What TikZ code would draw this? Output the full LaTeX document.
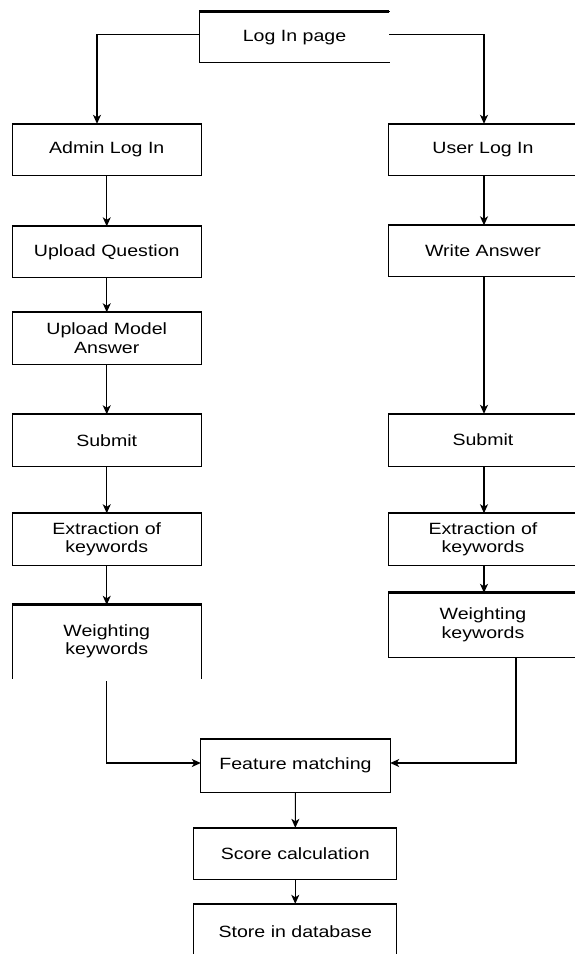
\documentclass[tikz,border=0pt]{standalone}
\usepackage{fontspec}
\setmainfont[FakeStretch=1.2]{Liberation Sans}
\usetikzlibrary{arrows.meta}
\begin{document}
\begin{tikzpicture}[x=1pt,y=-1pt,
  boxnode/.style={draw=none,inner sep=0pt,align=center,font=\fontsize{16.3}{18.5}\selectfont},
  thinline/.style={line width=1.1pt,line cap=rect},
  topline/.style={line width=2pt},
  heavytop/.style={line width=3pt},
  arr/.style={line width=1.1pt,-{Stealth[length=9pt,width=8pt,inset=2.5pt]}},
  conn/.style={line width=1pt}]
\useasboundingbox (0,0) rectangle (574,954);
\fill[white] (0,0) rectangle (574,954);

% nodes
\node[boxnode,minimum width=189pt,minimum height=51pt] (login) at (294.5,37.2) {Log In page};
\node[boxnode,minimum width=188.5pt,minimum height=51pt] (admin) at (106.75,149.5) {Admin Log In};
\node[boxnode,minimum width=188.5pt,minimum height=51pt] (upq) at (106.75,252) {Upload Question};
\node[boxnode,minimum width=188.5pt,minimum height=51.5pt] (upm) at (106.75,338.2) {Upload Model\\Answer};
\node[boxnode,minimum width=188.5pt,minimum height=51.5pt] (subL) at (106.75,440.2) {Submit};
\node[boxnode,minimum width=188.5pt,minimum height=51.5pt] (extL) at (106.75,539.2) {Extraction of\\keywords};
\node[boxnode,minimum width=188.5pt,minimum height=73pt] (wL) at (106.75,641.5) {Weighting\\keywords};

\node[boxnode,minimum width=188pt,minimum height=51pt] (user) at (483,149.5) {User Log In};
\node[boxnode,minimum width=188pt,minimum height=51pt] (write) at (483,251) {Write Answer};
\node[boxnode,minimum width=188pt,minimum height=52pt] (subR) at (483,440) {Submit};
\node[boxnode,minimum width=188pt,minimum height=51.5pt] (extR) at (483,539.2) {Extraction of\\keywords};
\node[boxnode,minimum width=188pt,minimum height=64pt] (wR) at (483,625) {Weighting\\keywords};

\node[boxnode,minimum width=189pt,minimum height=53pt] (feat) at (295.5,765.5) {Feature matching};
\node[boxnode,minimum width=202.5pt,minimum height=51pt] (score) at (295.25,853.5) {Score calculation};
\node[boxnode,minimum width=202.5pt,minimum height=56pt] (store) at (295.25,932) {Store in database};

% borders: closed boxes (thin sides/bottom, thicker top)
\foreach \n in {admin,upq,upm,subL,extL,user,write,subR,extR,feat,score} {
  \draw[thinline] (\n.north west) -- (\n.south west) -- (\n.south east) -- (\n.north east);
  \draw[topline] ([xshift=-0.5pt]\n.north west) -- ([xshift=0.5pt]\n.north east);
}
% log in page: no right side
\draw[thinline] (login.north east) -- (login.north west) -- (login.south west) -- (login.south east);
\draw[heavytop] ([xshift=-0.5pt]login.north west) -- (login.north east);
% weighting (left): open bottom
\draw[thinline] (wL.north west) -- (wL.south west);
\draw[thinline] (wL.north east) -- (wL.south east);
\draw[heavytop] ([xshift=-0.5pt]wL.north west) -- ([xshift=0.5pt]wL.north east);
% weighting (right)
\draw[thinline] (wR.north west) -- (wR.south west) -- (wR.south east) -- (wR.north east);
\draw[heavytop] ([xshift=-0.5pt]wR.north west) -- ([xshift=0.5pt]wR.north east);
% store in database
\draw[thinline] (store.south west) -- (store.north west) -- (store.north east) -- (store.south east);
\draw[topline] ([xshift=-0.5pt]store.north west) -- ([xshift=0.5pt]store.north east);

% connectors
\draw[arr] ([yshift=3pt]login.west) -| ([xshift=-9.75pt]admin.north);
\draw[arr] ([yshift=3pt]login.east) -| ([xshift=1pt]user.north);
\draw[arr] (admin) -- (upq);
\draw[arr] (upq) -- (upm);
\draw[arr] (upm) -- (subL);
\draw[arr] (subL) -- (extL);
\draw[arr] (extL) -- (wL);
\draw[arr] ([xshift=1pt]user.south) -- ([xshift=1pt]write.north);
\draw[arr] ([xshift=1pt]write.south) -- ([xshift=1pt]subR.north);
\draw[arr] ([xshift=1pt]subR.south) -- ([xshift=1pt]extR.north);
\draw[arr] ([xshift=1pt]extR.south) -- ([xshift=1pt]wR.north);
\draw[arr] ([yshift=-3pt]wL.south) |- ([yshift=2.5pt]feat.west);
\draw[arr] ([xshift=33pt]wR.south) |- ([yshift=2.5pt]feat.east);
\draw[arr] (feat) -- (score);
\draw[arr] (score) -- (store);
\end{tikzpicture}
\end{document}
